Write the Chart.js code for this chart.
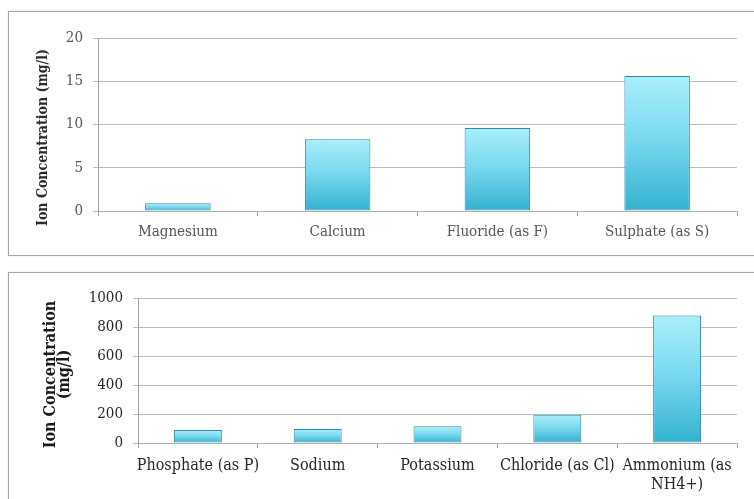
<!DOCTYPE html>
<html>
<head>
<meta charset="utf-8">
<script src="https://cdn.jsdelivr.net/npm/chart.js@4"></script>
<style>
    body { margin: 0; background: #fff; width: 754px; height: 499px; position: relative; overflow: hidden; }
    .box { position: absolute; border: 1px solid #a6a6a6; box-shadow: 0 0 1px #c8c8c8; }
    #box1 { left: 8px; top: 11px; width: 760px; height: 243px; }
    #box2 { left: 8px; top: 272px; width: 760px; height: 260px; }
    canvas { position: absolute; left: 0; }
    #chart1 { top: 0; }
    #chart2 { top: 262px; }
</style>
</head>
<body>
<div class="box" id="box1"></div>
<div class="box" id="box2"></div>
<canvas id="chart1" width="754" height="262"></canvas>
<canvas id="chart2" width="754" height="237"></canvas>
<script>
// Top chart
const topCategories = ['Magnesium', 'Calcium', 'Fluoride (as F)', 'Sulphate (as S)'];
const topValues = [0.9, 8.3, 9.6, 15.6];
const topTicks = [0, 5, 10, 15, 20];

// Bottom chart
const bottomCategories = ['Phosphate (as P)', 'Sodium', 'Potassium', 'Chloride (as Cl)', ['Ammonium (as', 'NH4+)']];
const bottomValues = [90, 97, 115, 195, 880];
const bottomTicks = [0, 200, 400, 600, 800, 1000];

const yTitle = 'Ion Concentration (mg/l)';
const FONT = "'DejaVu Serif Condensed', 'DejaVu Serif', serif";

// light cyan at the top of each bar, darker at the base
function barFill(context) {
    const chart = context.chart;
    const y = chart.scales && chart.scales.y;
    if (!chart.chartArea || !y || context.parsed == null) return '#7fdcef';
    const top = y.getPixelForValue(context.parsed.y);
    const base = y.getPixelForValue(0);
    const g = chart.ctx.createLinearGradient(0, top, 0, base);
    g.addColorStop(0, '#a9eefb');
    g.addColorStop(0.45, '#7bdaef');
    g.addColorStop(1, '#33b1d0');
    return g;
}

// rotated axis title, drawn where the original sits
const sideTitle = {
    id: 'sideTitle',
    afterDraw(chart, args, opts) {
        const ctx = chart.ctx;
        const area = chart.chartArea;
        const cy = (area.top + area.bottom) / 2 + (opts.shift || 0);
        ctx.save();
        ctx.font = opts.font;
        ctx.fillStyle = opts.color;
        ctx.textAlign = 'center';
        ctx.textBaseline = 'middle';
        opts.lines.forEach(function(line, i) {
            ctx.save();
            ctx.translate(opts.x[i], cy);
            ctx.rotate(-Math.PI / 2);
            ctx.fillText(line, 0, 0);
            ctx.restore();
        });
        ctx.restore();
    }
};

function makeChart(id, cfg) {
    return new Chart(document.getElementById(id), {
        type: 'bar',
        data: {
            labels: cfg.labels,
            datasets: [{
                data: cfg.values,
                backgroundColor: barFill,
                borderColor: '#2c8ca8',
                borderWidth: 1,
                borderSkipped: false,
                barPercentage: cfg.barPct,
                categoryPercentage: 1
            }]
        },
        plugins: [sideTitle],
        options: {
            responsive: false,
            animation: false,
            layout: { padding: { top: cfg.padTop, right: 17, left: 0, bottom: 0 } },
            plugins: {
                legend: { display: false },
                tooltip: { enabled: false },
                sideTitle: cfg.title
            },
            scales: {
                x: {
                    afterFit: function(scale) { scale.height = cfg.xHeight; },
                    grid: { drawOnChartArea: false, offset: true, color: '#a0a0a0', tickLength: 5 },
                    border: { display: true, color: '#b0b0b0' },
                    ticks: {
                        color: cfg.tickColor,
                        font: { family: FONT, size: cfg.xSize },
                        padding: cfg.xPad,
                        maxRotation: 0,
                        autoSkip: false
                    }
                },
                y: {
                    min: 0,
                    max: cfg.ticks[cfg.ticks.length - 1],
                    afterFit: function(scale) { scale.width = cfg.yWidth; },
                    afterBuildTicks: function(scale) {
                        scale.ticks = cfg.ticks.map(v => ({ value: v }));
                    },
                    grid: { color: '#bdbdbd', tickLength: 5 },
                    border: { display: true, color: '#a0a0a0' },
                    ticks: {
                        color: cfg.tickColor,
                        font: { family: FONT, size: 15 },
                        padding: 10,
                        callback: function(v) { return String(v); }
                    }
                }
            }
        }
    });
}

makeChart('chart1', {
    labels: topCategories,
    values: topValues,
    ticks: topTicks,
    barPct: 0.41,
    padTop: 38,
    xHeight: 51,
    yWidth: 98,
    xSize: 15,
    xPad: 7,
    tickColor: '#555555',
    title: { lines: [yTitle], x: [43], shift: 13, font: 'bold 14px ' + FONT, color: '#2b2b2b' }
});

makeChart('chart2', {
    labels: bottomCategories,
    values: bottomValues,
    ticks: bottomTicks,
    barPct: 0.4,
    padTop: 36,
    xHeight: 56,
    yWidth: 138,
    xSize: 16,
    xPad: 8,
    tickColor: '#262626',
    title: { lines: ['Ion Concentration', '(mg/l)'], x: [51, 65], shift: 4, font: 'bold 16px ' + FONT, color: '#1a1a1a' }
});
</script>
</body>
</html>
